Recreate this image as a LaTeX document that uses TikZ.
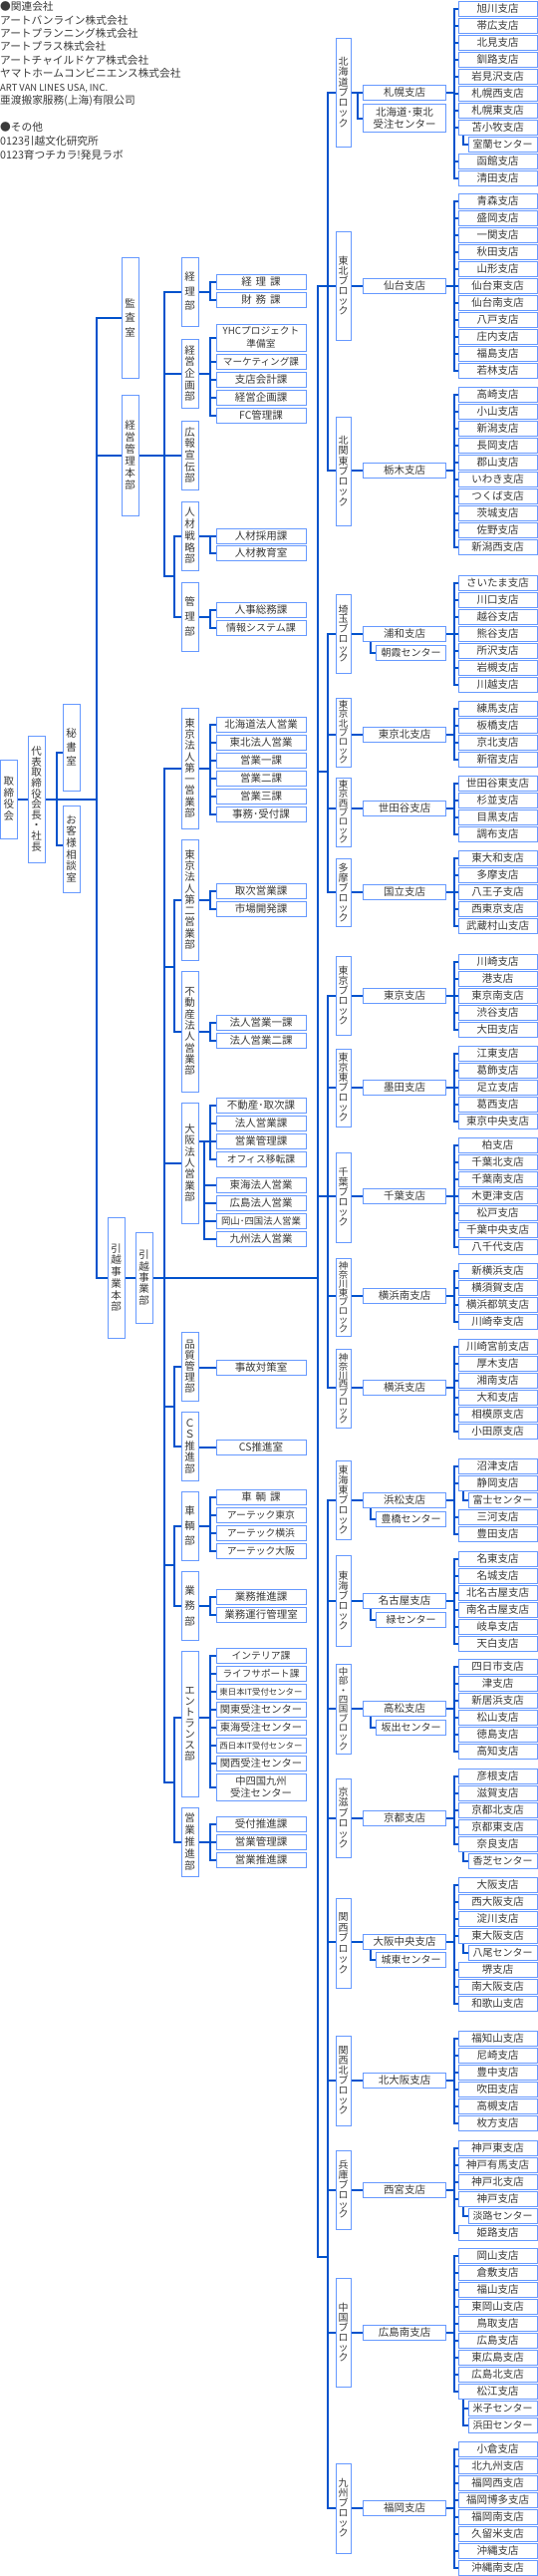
\documentclass[tikz,border=0pt]{standalone}
\usepackage{fontspec}
\setmainfont{Noto Sans CJK JP}
\definecolor{lc}{HTML}{0052CC}
\definecolor{bc}{HTML}{6699FF}
\definecolor{tc}{HTML}{3A3A3A}
\pgfdeclarelayer{bg}
\pgfsetlayers{bg,main}
\tikzset{
 conn/.style={draw=lc, line width=2pt, line cap=rect},
 bx/.style={draw=bc, line width=1pt, fill=white, inner sep=0pt, outer sep=0pt, text=tc, align=center},
 hb/.style={bx, font={\fontsize{#1}{12}\selectfont}, text height=9.2pt, text depth=1.3pt},
 hb/.default=10.5,
 h2/.style={bx, font={\fontsize{#1}{12.6}\selectfont\lineskiplimit=-50pt}},
 h2/.default=10.5,
 vb/.style 2 args={bx, font={\fontsize{#1}{#2}\selectfont\lineskiplimit=-50pt}},
 toptext/.style={anchor=base west, inner sep=0pt, text=tc, font={\fontsize{10.7}{12}\selectfont}},
}
\newcommand\mkbox[7]{\node[#6, minimum width={((#4)-(#2))*1pt}, minimum height={((#5)-(#3))*1pt}] (#1) at ({((#2)+(#4))/2},{((#3)+(#5))/2}) {#7};}
\newcommand\mkkid[6]{\mkbox{#1}{217}{#2}{307}{(#2)+(#3)}{#5}{#6}%
  \begin{pgfonlayer}{bg}\draw[conn] (#1.west -| #4) -- (#1.west);\end{pgfonlayer}}
\newcommand\mkbr[4]{\begin{pgfonlayer}{bg}\draw[conn] (#1) -- (#1 -| #4);\draw[conn] (#2.west -| #4) -- (#3.west -| #4);\end{pgfonlayer}}
\newcommand\mkstores[3]{%
  \gdef\lastmain{0}%
  \foreach \lbl/\knd [count=\i from 0] in {#3} {%
    \pgfmathsetmacro\yy{#2+7.5+17*\i}%
    \if\knd s
      \node[hb=10, minimum width=69pt, minimum height=15pt] (#1-\i) at (504.5,\yy) {\lbl};
      \begin{pgfonlayer}{bg}\draw[conn] (#1-\lastmain.south -| s465) |- (#1-\i.west);\end{pgfonlayer}
    \else
      \node[hb, minimum width=79pt, minimum height=15pt] (#1-\i) at (499.5,\yy) {\lbl};
      \begin{pgfonlayer}{bg}\draw[conn] (#1-\i.west -| s456) -- (#1-\i.west);\end{pgfonlayer}
      \xdef\lastmain{\i}%
    \fi
  }%
  \begin{pgfonlayer}{bg}
  \draw[conn] (#1-0.west -| s456) -- (#1-\lastmain.west -| s456);
  \draw[conn] (#1.east) -- (#1.east -| s456);
  \end{pgfonlayer}}
\begin{document}
\begin{tikzpicture}[x=1pt,y=-1pt]
\path[use as bounding box] (0,0) rectangle (540,2584);
\begin{pgfonlayer}{bg}\fill[white] (0,0) rectangle (540,2584);\end{pgfonlayer}
\coordinate (t97) at (97,0);
\coordinate (t165) at (165,0);
\coordinate (t175) at (175,0);
\coordinate (k205) at (205,0);
\coordinate (k211) at (211,0);
\coordinate (t319) at (319,0);
\coordinate (t329) at (329,0);
\coordinate (a359) at (359,0);
\coordinate (a372) at (372,0);
\coordinate (s456) at (456,0);
\coordinate (s465) at (465,0);
\coordinate (jh1) at (57,755);
\coordinate (jh2) at (57,848);
\coordinate (j578) at (165,578);
\coordinate (j970) at (165,970);
\coordinate (j1411) at (165,1411);
\coordinate (j1570) at (165,1570);
\coordinate (j1788) at (165,1788);
\coordinate (j774) at (319,774);
\coordinate (j2264) at (319,2264);
% top text
\node[toptext] (l1) at (0,10.2) {●関連会社};
\node[toptext] (l2) at (0,24.2) {アートバンライン株式会社};
\node[toptext] (l3) at (0,37.5) {アートプランニング株式会社};
\node[toptext] (l4) at (0,50.9) {アートプラス株式会社};
\node[toptext] (l5) at (0,64.2) {アートチャイルドケア株式会社};
\node[toptext] (l6) at (0,77.5) {ヤマトホームコンビニエンス株式会社};
\node[toptext, font={\fontsize{9.4}{12}\selectfont}] (l7) at (0,91) {ART VAN LINES USA, INC.};
\node[toptext] (l8) at (0,104.2) {亜渡搬家服務(上海)有限公司};
\node[toptext] (l9) at (0,131.2) {●その他};
\node[toptext] (l10) at (0,145.2) {0123引越文化研究所};
\node[toptext] (l11) at (0,159.2) {0123育つチカラ!発見ラボ};
% left main boxes
\mkbox{tori}{0.5}{762}{17}{841}{vb={10.5}{11.5}}{取\\締\\役\\会}
\mkbox{daihyo}{28}{738}{45}{865}{vb={10.5}{10.6}}{代\\表\\取\\締\\役\\会\\長\\・\\社\\長}
\mkbox{hisho}{63}{706}{80}{793}{vb={10.5}{14}}{秘\\書\\室}
\mkbox{okyaku}{63}{808}{80}{895}{vb={10.5}{11.7}}{お\\客\\様\\相\\談\\室}
\mkbox{kansa}{122}{258}{139}{379}{vb={10.5}{14.5}}{監\\査\\室}
\mkbox{keiei}{122}{396}{139}{517}{vb={10.5}{12}}{経\\営\\管\\理\\本\\部}
\mkbox{keiri}{182}{258}{199}{327}{vb={10.5}{14.5}}{経\\理\\部}
\mkbox{kikaku}{182}{340}{199}{409}{vb={10.5}{11.7}}{経\\営\\企\\画\\部}
\mkbox{koho}{182}{422}{199}{491}{vb={10.5}{11.7}}{広\\報\\宣\\伝\\部}
\mkbox{jinzai}{182}{503}{199}{572}{vb={10.5}{11.7}}{人\\材\\戦\\略\\部}
\mkbox{kanri}{182}{584}{199}{653}{vb={10.5}{15}}{管\\理\\部}
\mkbox{tk1}{182}{710}{199}{831}{vb={10.5}{11.25}}{東\\京\\法\\人\\第\\一\\営\\業\\部}
\mkbox{tk2}{182}{842}{199}{963}{vb={10.5}{11.25}}{東\\京\\法\\人\\第\\二\\営\\業\\部}
\mkbox{fudo}{182}{974}{199}{1095}{vb={10.5}{11.3}}{不\\動\\産\\法\\人\\営\\業\\部}
\mkbox{osk}{182}{1106}{199}{1227}{vb={10.5}{11.4}}{大\\阪\\法\\人\\営\\業\\部}
\mkbox{hq}{108}{1221}{125}{1342}{vb={10.5}{11.7}}{引\\越\\事\\業\\本\\部}
\mkbox{hj}{136}{1236}{153}{1327}{vb={10.5}{11.3}}{引\\越\\事\\業\\部}
\mkbox{hin}{182}{1336}{199}{1405}{vb={10.5}{11}}{品\\質\\管\\理\\部}
\mkbox{cs}{182}{1416}{199}{1485}{vb={10.5}{11.5}}{Ｃ\\Ｓ\\推\\進\\部}
\mkbox{sha}{182}{1496}{199}{1565}{vb={10.5}{15}}{車\\輌\\部}
\mkbox{gyo}{182}{1576}{199}{1645}{vb={10.5}{15.5}}{業\\務\\部}
\mkbox{ent}{182}{1656}{199}{1802}{vb={10.5}{11}}{エ\\ン\\ト\\ラ\\ン\\ス\\部}
\mkbox{eis}{182}{1813}{199}{1882}{vb={10.5}{12}}{営\\業\\推\\進\\部}
\coordinate (oskfeed) at ([yshift=21.5pt]osk.east);
\coordinate (entfeed) at ([yshift=6pt]ent.east);
\coordinate (entfeedw) at ([yshift=6pt]ent.west);
% left children
\mkkid{kr1}{275}{15}{k211}{hb}{経\hspace{4pt}理\hspace{4pt}課}
\mkkid{kr2}{293}{15}{k211}{hb}{財\hspace{4pt}務\hspace{4pt}課}
\mkkid{kk1}{325}{27}{k211}{h2=9.7}{YHCプロジェクト\\準備室}
\mkkid{kk2}{355}{15}{k211}{hb=9.6}{マーケティング課}
\mkkid{kk3}{373}{15}{k211}{hb}{支店会計課}
\mkkid{kk4}{391}{15}{k211}{hb}{経営企画課}
\mkkid{kk5}{409}{15}{k211}{hb}{FC管理課}
\mkkid{jz1}{530}{15}{k211}{hb}{人材採用課}
\mkkid{jz2}{547}{15}{k211}{hb}{人材教育室}
\mkkid{kn1}{604}{15}{k211}{hb}{人事総務課}
\mkkid{kn2}{622}{15}{k211}{hb=10}{情報システム課}
\mkkid{t1a}{719}{15}{k211}{hb}{北海道法人営業}
\mkkid{t1b}{737}{15}{k211}{hb}{東北法人営業}
\mkkid{t1c}{755}{15}{k211}{hb}{営業一課}
\mkkid{t1d}{773}{15}{k211}{hb}{営業二課}
\mkkid{t1e}{791}{15}{k211}{hb}{営業三課}
\mkkid{t1f}{809}{15}{k211}{hb}{事務･受付課}
\mkkid{t2a}{886}{15}{k211}{hb}{取次営業課}
\mkkid{t2b}{904}{15}{k211}{hb}{市場開発課}
\mkkid{fd1}{1018}{15}{k211}{hb}{法人営業一課}
\mkkid{fd2}{1036}{15}{k211}{hb}{法人営業二課}
\mkkid{o1}{1101}{15}{k211}{hb}{不動産･取次課}
\mkkid{o2}{1119}{15}{k211}{hb}{法人営業課}
\mkkid{o3}{1137}{15}{k211}{hb}{営業管理課}
\mkkid{o4}{1155}{15}{k211}{hb=9.8}{オフィス移転課}
\mkkid{o5}{1181}{15}{k205}{hb}{東海法人営業}
\mkkid{o6}{1199}{15}{k205}{hb}{広島法人営業}
\mkkid{o7}{1217}{15}{k205}{hb=9.4}{岡山･四国法人営業}
\mkkid{o8}{1235}{15}{k205}{hb}{九州法人営業}
\mkkid{hn1}{1364}{15}{hin.east}{hb}{事故対策室}
\mkkid{cs1}{1444}{15}{cs.east}{hb}{CS推進室}
\mkkid{sh1}{1494}{15}{k211}{hb}{車\hspace{4pt}輌\hspace{4pt}課}
\mkkid{sh2}{1512}{15}{k211}{hb=9.8}{アーテック東京}
\mkkid{sh3}{1530}{15}{k211}{hb=9.8}{アーテック横浜}
\mkkid{sh4}{1548}{15}{k211}{hb=9.8}{アーテック大阪}
\mkkid{gy1}{1594}{15}{k211}{hb}{業務推進課}
\mkkid{gy2}{1612}{15}{k211}{hb}{業務運行管理室}
\mkkid{en1}{1653}{15}{k211}{hb=9.8}{インテリア課}
\mkkid{en2}{1671}{15}{k211}{hb=9.6}{ライフサポート課}
\mkkid{en3}{1689}{15}{k211}{hb=8.4}{東日本IT受付センター}
\mkkid{en4}{1707}{15}{k211}{hb=10.3}{関東受注センター}
\mkkid{en5}{1725}{15}{k211}{hb=10.3}{東海受注センター}
\mkkid{en6}{1743}{15}{k211}{hb=8.4}{西日本IT受付センター}
\mkkid{en7}{1761}{15}{k211}{hb=10.3}{関西受注センター}
\mkkid{en8}{1779}{27}{k211}{h2=10.3}{中四国九州\\受注センター}
\mkkid{es1}{1822}{15}{k211}{hb}{受付推進課}
\mkkid{es2}{1840}{15}{k211}{hb}{営業管理課}
\mkkid{es3}{1858}{15}{k211}{hb}{営業推進課}
\mkbr{keiri.east}{kr1}{kr2}{k211}
\mkbr{kikaku.east}{kk1}{kk5}{k211}
\mkbr{jinzai.east}{jz1}{jz2}{k211}
\mkbr{kanri.east}{kn1}{kn2}{k211}
\mkbr{tk1.east}{t1a}{t1f}{k211}
\mkbr{tk2.east}{t2a}{t2b}{k211}
\mkbr{fudo.east}{fd1}{fd2}{k211}
\mkbr{oskfeed}{o1}{o4}{k211}
\mkbr{sha.east}{sh1}{sh4}{k211}
\mkbr{gyo.east}{gy1}{gy2}{k211}
\mkbr{entfeed}{en1}{en8}{k211}
\mkbr{eis.east}{es1}{es3}{k211}
% left connectors
\begin{pgfonlayer}{bg}
\draw[conn] (oskfeed -| k205) -- (o8.west -| k205);
\draw[conn] (tori.east) -- (daihyo.west);
\draw[conn] (daihyo.east) -- (daihyo.east -| t97);
\draw[conn] (jh1 -| hisho.west) -- (jh1) -- (jh2) -- (jh2 -| okyaku.west);
\draw[conn] (kansa.west) -- (kansa.west -| t97) -- (hq.west -| t97) -- (hq.west);
\draw[conn] (keiei.west) -- (keiei.west -| t97);
\draw[conn] (keiei.east) -- (koho.west);
\draw[conn] (keiri.west) -- (keiri.west -| t165) -- (j578) -- (j578 -| t175);
\draw[conn] (kikaku.west) -- (kikaku.west -| t165);
\draw[conn] (jinzai.west) -- (jinzai.west -| t175) -- (kanri.west -| t175) -- (kanri.west);
\draw[conn] (hq.east) -- (hj.west);
\draw[conn] (hj.east) -- (hj.east -| t319);
\draw[conn] (tk1.west) -- (tk1.west -| t165) -- (j1788) -- (j1788 -| t175);
\draw[conn] (tk2.west) -- (tk2.west -| t175) -- (fudo.west -| t175) -- (fudo.west);
\draw[conn] (j970) -- (j970 -| t175);
\draw[conn] (osk.west -| t165) -- (osk.west);
\draw[conn] (hin.west) -- (hin.west -| t175) -- (cs.west -| t175) -- (cs.west);
\draw[conn] (j1411) -- (j1411 -| t175);
\draw[conn] (sha.west) -- (sha.west -| t175) -- (gyo.west -| t175) -- (gyo.west);
\draw[conn] (j1570) -- (j1570 -| t175);
\draw[conn] (entfeedw) -- (entfeedw -| t175) -- (eis.west -| t175) -- (eis.west);
\end{pgfonlayer}
% blocks
\mkbox{hkd}{337}{38}{352}{147}{vb={10}{10.3}}{北\\海\\道\\ブ\\ロ\\ッ\\ク}
\mkbox{thk}{337}{232}{352}{341}{vb={10}{10}}{東\\北\\ブ\\ロ\\ッ\\ク}
\mkbox{kkt}{337}{418}{352}{527}{vb={10}{10.3}}{北\\関\\東\\ブ\\ロ\\ッ\\ク}
\mkbox{sai}{337}{596}{352}{675}{vb={10}{9.7}}{埼\\玉\\ブ\\ロ\\ッ\\ク}
\mkbox{tkn}{337}{700}{352}{769}{vb={9.5}{9.2}}{東\\京\\北\\ブ\\ロ\\ッ\\ク}
\mkbox{tkw}{337}{780}{352}{849}{vb={9.5}{9.2}}{東\\京\\西\\ブ\\ロ\\ッ\\ク}
\mkbox{tam}{337}{861}{352}{929}{vb={10}{10}}{多\\摩\\ブ\\ロ\\ッ\\ク}
\mkbox{tok}{337}{959}{352}{1038}{vb={10}{10}}{東\\京\\ブ\\ロ\\ッ\\ク}
\mkbox{tke}{337}{1052}{352}{1130}{vb={10}{10}}{東\\京\\東\\ブ\\ロ\\ッ\\ク}
\mkbox{chb}{337}{1156}{352}{1246}{vb={10}{10}}{千\\葉\\ブ\\ロ\\ッ\\ク}
\mkbox{kge}{337}{1262}{352}{1340}{vb={9.5}{9}}{神\\奈\\川\\東\\ブ\\ロ\\ッ\\ク}
\mkbox{kgw}{337}{1353}{352}{1432}{vb={9.5}{8.8}}{神\\奈\\川\\西\\ブ\\ロ\\ッ\\ク}
\mkbox{tkh}{337}{1465}{352}{1544}{vb={10}{10}}{東\\海\\東\\ブ\\ロ\\ッ\\ク}
\mkbox{tka}{337}{1560}{352}{1651}{vb={10}{10}}{東\\海\\ブ\\ロ\\ッ\\ク}
\mkbox{csk}{337}{1669}{352}{1759}{vb={9.5}{9.3}}{中\\部\\・\\四\\国\\ブ\\ロ\\ッ\\ク}
\mkbox{kjb}{337}{1784}{352}{1863}{vb={10}{10.5}}{京\\滋\\ブ\\ロ\\ッ\\ク}
\mkbox{knb}{337}{1904}{352}{1994}{vb={10}{10.5}}{関\\西\\ブ\\ロ\\ッ\\ク}
\mkbox{knk}{337}{2042}{352}{2132}{vb={10}{10}}{関\\西\\北\\ブ\\ロ\\ッ\\ク}
\mkbox{hyo}{337}{2157}{352}{2236}{vb={10}{9.8}}{兵\\庫\\ブ\\ロ\\ッ\\ク}
\mkbox{cgk}{337}{2285}{352}{2394}{vb={10}{10}}{中\\国\\ブ\\ロ\\ッ\\ク}
\mkbox{kyb}{337}{2471}{352}{2561}{vb={10}{10}}{九\\州\\ブ\\ロ\\ッ\\ク}
% branches
\mkbox{sap}{364.5}{85.5}{447.5}{100.5}{hb}{札幌支店}
\mkbox{juc}{364.5}{104.5}{447.5}{132.5}{h2}{北海道･東北\\受注センター}
\mkbox{sen}{364.5}{279.5}{447.5}{294.5}{hb}{仙台支店}
\mkbox{toc}{364.5}{464.5}{447.5}{479.5}{hb}{栃木支店}
\mkbox{ura}{364.5}{628.5}{447.5}{643.5}{hb}{浦和支店}
\mkbox{asa}{377.5}{647.5}{447.5}{662.5}{hb=10}{朝霞センター}
\mkbox{tkk}{364.5}{729.5}{447.5}{744.5}{hb}{東京北支店}
\mkbox{set}{364.5}{803.5}{447.5}{818.5}{hb}{世田谷支店}
\mkbox{kun}{364.5}{887.5}{447.5}{902.5}{hb}{国立支店}
\mkbox{tks}{364.5}{991.5}{447.5}{1006.5}{hb}{東京支店}
\mkbox{sum}{364.5}{1083.5}{447.5}{1098.5}{hb}{墨田支店}
\mkbox{chs}{364.5}{1192.5}{447.5}{1207.5}{hb}{千葉支店}
\mkbox{ykm}{364.5}{1292.5}{447.5}{1307.5}{hb}{横浜南支店}
\mkbox{yko}{364.5}{1384.5}{447.5}{1399.5}{hb}{横浜支店}
\mkbox{ham}{364.5}{1497.5}{447.5}{1512.5}{hb}{浜松支店}
\mkbox{toy}{377.5}{1516}{447.5}{1531}{hb=10}{豊橋センター}
\mkbox{ngy}{364.5}{1598.5}{447.5}{1613.5}{hb}{名古屋支店}
\mkbox{mid}{377.5}{1617}{447.5}{1632}{hb=10}{緑センター}
\mkbox{tkm}{364.5}{1706.5}{447.5}{1721.5}{hb}{高松支店}
\mkbox{sak}{377.5}{1725.5}{447.5}{1740.5}{hb=10}{坂出センター}
\mkbox{kyo}{364.5}{1816.5}{447.5}{1831.5}{hb}{京都支店}
\mkbox{osc}{364.5}{1940.5}{447.5}{1955.5}{hb}{大阪中央支店}
\mkbox{jot}{377.5}{1958.5}{447.5}{1973.5}{hb=10}{城東センター}
\mkbox{kos}{364.5}{2079.5}{447.5}{2094.5}{hb}{北大阪支店}
\mkbox{nsm}{364.5}{2189.5}{447.5}{2204.5}{hb}{西宮支店}
\mkbox{hrm}{364.5}{2332.5}{447.5}{2347.5}{hb}{広島南支店}
\mkbox{fko}{364.5}{2508.5}{447.5}{2523.5}{hb}{福岡支店}
% stores
\mkstores{sap}{1}{旭川支店/m,帯広支店/m,北見支店/m,釧路支店/m,岩見沢支店/m,札幌西支店/m,札幌東支店/m,苫小牧支店/m,室蘭センター/s,函館支店/m,清田支店/m}
\mkstores{sen}{194}{青森支店/m,盛岡支店/m,一関支店/m,秋田支店/m,山形支店/m,仙台東支店/m,仙台南支店/m,八戸支店/m,庄内支店/m,福島支店/m,若林支店/m}
\mkstores{toc}{388}{高崎支店/m,小山支店/m,新潟支店/m,長岡支店/m,郡山支店/m,いわき支店/m,つくば支店/m,茨城支店/m,佐野支店/m,新潟西支店/m}
\mkstores{ura}{577}{さいたま支店/m,川口支店/m,越谷支店/m,熊谷支店/m,所沢支店/m,岩槻支店/m,川越支店/m}
\mkstores{tkk}{703}{練馬支店/m,板橋支店/m,京北支店/m,新宿支店/m}
\mkstores{set}{778}{世田谷東支店/m,杉並支店/m,目黒支店/m,調布支店/m}
\mkstores{kun}{853}{東大和支店/m,多摩支店/m,八王子支店/m,西東京支店/m,武蔵村山支店/m}
\mkstores{tks}{957}{川崎支店/m,港支店/m,東京南支店/m,渋谷支店/m,大田支店/m}
\mkstores{sum}{1049}{江東支店/m,葛飾支店/m,足立支店/m,葛西支店/m,東京中央支店/m}
\mkstores{chs}{1141}{柏支店/m,千葉北支店/m,千葉南支店/m,木更津支店/m,松戸支店/m,千葉中央支店/m,八千代支店/m}
\mkstores{ykm}{1267}{新横浜支店/m,横須賀支店/m,横浜都筑支店/m,川崎幸支店/m}
\mkstores{yko}{1343}{川崎宮前支店/m,厚木支店/m,湘南支店/m,大和支店/m,相模原支店/m,小田原支店/m}
\mkstores{ham}{1463}{沼津支店/m,静岡支店/m,富士センター/s,三河支店/m,豊田支店/m}
\mkstores{ngy}{1556}{名東支店/m,名城支店/m,北名古屋支店/m,南名古屋支店/m,岐阜支店/m,天白支店/m}
\mkstores{tkm}{1664}{四日市支店/m,津支店/m,新居浜支店/m,松山支店/m,徳島支店/m,高知支店/m}
\mkstores{kyo}{1774}{彦根支店/m,滋賀支店/m,京都北支店/m,京都東支店/m,奈良支店/m,香芝センター/s}
\mkstores{osc}{1883}{大阪支店/m,西大阪支店/m,淀川支店/m,東大阪支店/m,八尾センター/s,堺支店/m,南大阪支店/m,和歌山支店/m}
\mkstores{kos}{2037}{福知山支店/m,尼崎支店/m,豊中支店/m,吹田支店/m,高槻支店/m,枚方支店/m}
\mkstores{nsm}{2147}{神戸東支店/m,神戸有馬支店/m,神戸北支店/m,神戸支店/m,淡路センター/s,姫路支店/m}
\mkstores{hrm}{2255}{岡山支店/m,倉敷支店/m,福山支店/m,東岡山支店/m,鳥取支店/m,広島支店/m,東広島支店/m,広島北支店/m,松江支店/m,米子センター/s,浜田センター/s}
\mkstores{fko}{2449}{小倉支店/m,北九州支店/m,福岡西支店/m,福岡博多支店/m,福岡南支店/m,久留米支店/m,沖縄支店/m,沖縄南支店/m}
% right connectors
\begin{pgfonlayer}{bg}
\draw[conn] (sen.west -| t319) -- (j2264) -- (j2264 -| t329);
\draw[conn] (j774) -- (j774 -| t329);
\draw[conn] (sap.west -| t329) -- (toc.west -| t329);
\draw[conn] (ura.west -| t329) -- (kun.west -| t329);
\draw[conn] (tks.west -| t329) -- (yko.west -| t329);
\draw[conn] (ham.west -| t329) -- (fko.west -| t329);
\foreach \b in {sap,toc,ura,tkk,set,kun,tks,sum,ykm,yko,ham,ngy,tkm,kyo,osc,kos,nsm,hrm,fko} {\draw[conn] (\b.west -| t329) -- (\b.west);}
\draw[conn] (sen.west -| t319) -- (sen.west);
\draw[conn] (chs.west -| t319) -- (chs.west);
\draw[conn] (sap.west -| a359) |- (juc.west);
\draw[conn] (ura.south -| a372) |- (asa.west);
\draw[conn] (ham.south -| a372) |- (toy.west);
\draw[conn] (ngy.south -| a372) |- (mid.west);
\draw[conn] (tkm.south -| a372) |- (sak.west);
\draw[conn] (osc.south -| a372) |- (jot.west);
\end{pgfonlayer}
\end{tikzpicture}
\end{document}
